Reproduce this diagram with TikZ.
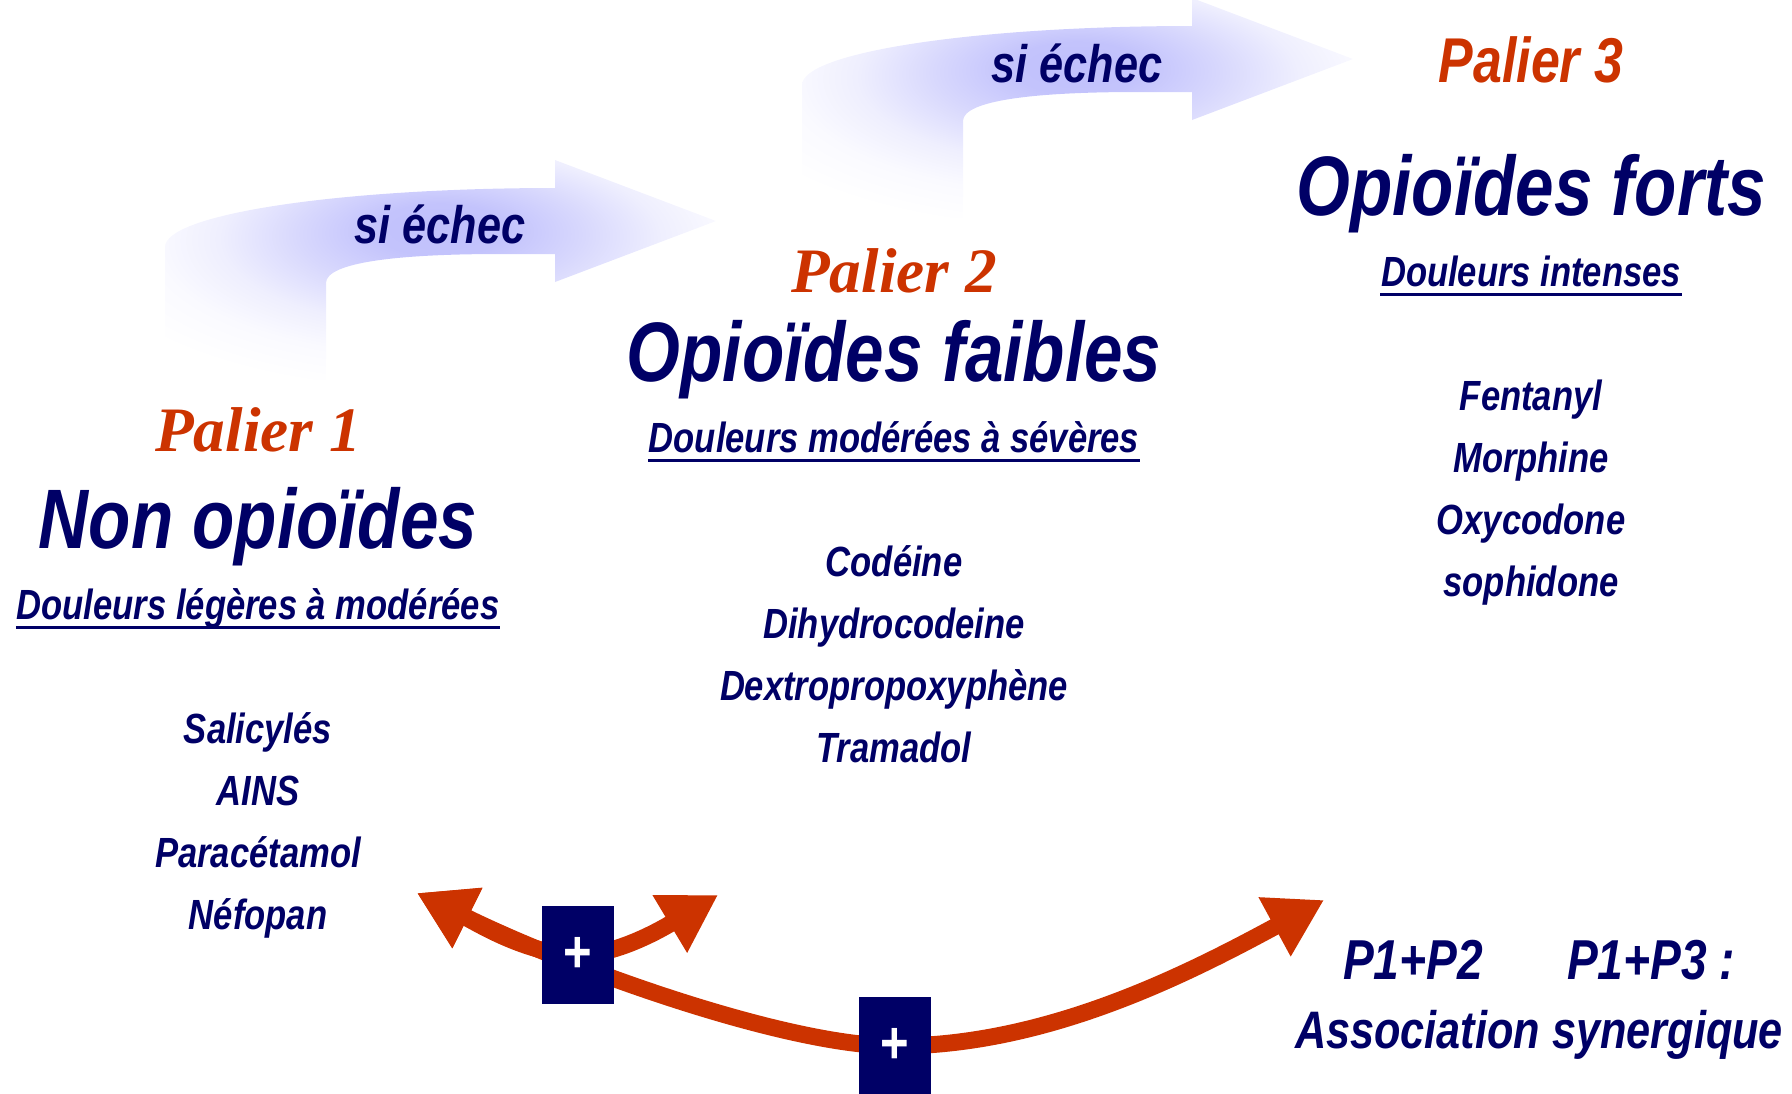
\documentclass[tikz,border=0pt]{standalone}
\usepackage{fontspec}
\usetikzlibrary{arrows.meta, positioning, backgrounds}
\setmainfont{Liberation Sans}
\newfontfamily\narrowsf{Liberation Sans}[FakeStretch=0.82]
\newfontfamily\palierrm{Liberation Serif}
\definecolor{oldnavy}{RGB}{0,0,102}
\definecolor{palierred}{RGB}{204,51,0}
\definecolor{echecblue}{RGB}{192,192,252}
% the central 50bp of a shading covers the path
\pgfdeclareradialshading{echecglow}{\pgfpoint{0bp}{10bp}}{%
  color(0bp)=(echecblue); color(6bp)=(echecblue!95); color(13bp)=(echecblue!62);
  color(20bp)=(echecblue!26); color(26bp)=(echecblue!8); color(33bp)=(white); color(70bp)=(white)}

\begin{document}
\begin{tikzpicture}[x=0.01cm, y=-0.01cm,
    txt/.style={inner sep=0pt, text=oldnavy},
    title/.style={txt, font=\narrowsf\bfseries\itshape\fontsize{24}{28}\selectfont,
                  text height=18pt, text depth=5pt},
    palier/.style={inner sep=0pt, text=palierred, font=\palierrm\bfseries\itshape\fontsize{18}{22}\selectfont,
                   text height=13pt, text depth=4pt},
    paliersf/.style={palier, font=\narrowsf\bfseries\itshape\fontsize{18}{22}\selectfont},
    drug/.style={txt, font=\narrowsf\bfseries\itshape\fontsize{12}{14}\selectfont,
                 text height=9pt, text depth=3pt},
    douleur/.style={drug, append after command={([yshift=-2.3pt]\tikzlastnode.base west)
                    edge[draw=oldnavy, line width=0.85pt] ([yshift=-2.3pt]\tikzlastnode.base east)}},
    echectxt/.style={txt, font=\narrowsf\bfseries\itshape\fontsize{15}{18}\selectfont},
    assoc/.style={txt, font=\narrowsf\bfseries\itshape\fontsize{16}{19}\selectfont},
    plusbox/.style={fill=oldnavy, minimum width=0.72cm, minimum height=0.98cm, inner sep=0pt,
                    text=white, font=\narrowsf\bfseries\fontsize{17}{17}\selectfont},
    redarr/.style={draw=palierred, line width=4.8pt,
                   {Triangle[length=16pt,width=18pt]}-{Triangle[length=16pt,width=18pt]}},
    echecarrow/.pic={
      \shade[shading=echecglow] (165,380) -- (165,247) .. controls (165,214) and (340,188) .. (555,188)
        -- (555,160) -- (716,221) -- (555,282) -- (555,254) -- (500,254)
        .. controls (400,254) and (326,262) .. (326,283) -- (326,380) -- cycle;
    }
]
\useasboundingbox (0,0) rectangle (1792,1093);

% shaded "si echec" steps
\pic at (0,0) {echecarrow};
\pic at (637,-162) {echecarrow};
\node[echectxt, anchor=base] (echec1) at (440,243) {si échec};
\node[echectxt, anchor=base] (echec2) at (1077,82) {si échec};

% Palier 1
\node[title, anchor=base] (nonop) at (258,548) {Non opioïdes};
\node[palier, above=5pt of nonop] (pal1) {Palier 1};
\node[douleur, below=5.9pt of nonop] (legeres) {Douleurs légères à modérées};
\node[drug, below=22.8pt of legeres] (salic) {Salicylés};
\node[drug, below=5.3pt of salic] (ains) {AINS};
\node[drug, below=5.3pt of ains] (parac) {Paracétamol};
\node[drug, below=5.3pt of parac] (nefop) {Néfopan};

% Palier 2
\node[title, anchor=base] (faibles) at (894,381) {Opioïdes faibles};
\node[palier, above=2.8pt of faibles] (pal2) {Palier 2};
\node[douleur, below=5.9pt of faibles] (moderees) {Douleurs modérées à sévères};
\node[drug, below=22.8pt of moderees] (codeine) {Codéine};
\node[drug, below=5.3pt of codeine] (dihydro) {Dihydrocodeine};
\node[drug, below=5.3pt of dihydro] (dextro) {Dextropropoxyphène};
\node[drug, below=5.3pt of dextro] (trama) {Tramadol};

% Palier 3
\node[title, anchor=base] (forts) at (1531,215) {Opioïdes forts};
\node[paliersf, above=15.3pt of forts] (pal3) {Palier 3};
\node[douleur, below=5.9pt of forts] (intenses) {Douleurs intenses};
\node[drug, below=22.8pt of intenses] (fenta) {Fentanyl};
\node[drug, below=5.3pt of fenta] (morph) {Morphine};
\node[drug, below=5.3pt of morph] (oxy) {Oxycodone};
\node[drug, below=5.3pt of oxy] (sophi) {sophidone};

% associations
\node[assoc, anchor=base] (p12) at (1413,979) {P1+P2};
\node[assoc, anchor=base] (p13) at (1651,979) {P1+P3 :};
\node[assoc, anchor=base, font=\narrowsf\bfseries\itshape\fontsize{15}{18}\selectfont] (synerg) at (1539,1048) {Association synergique};

\coordinate (p1tip) at (417,893);
\coordinate (p2tip) at (718,895);
\coordinate (p3tip) at (1324,900);
\node[plusbox] (plus1) at (578,955) {+};
\node[plusbox] (plus2) at (895,1046) {+};

\begin{scope}[on background layer]
\draw[redarr] (p1tip) .. controls +(150,74) and +(-110,0) .. (plus2.center)
  .. controls +(150,0) and +(-140,76) .. (p3tip);
\draw[redarr] (p1tip) .. controls +(60,30) and +(-50,0) .. (plus1.center)
  .. controls +(45,0) and +(-40,24) .. (p2tip);
\end{scope}
\end{tikzpicture}
\end{document}
